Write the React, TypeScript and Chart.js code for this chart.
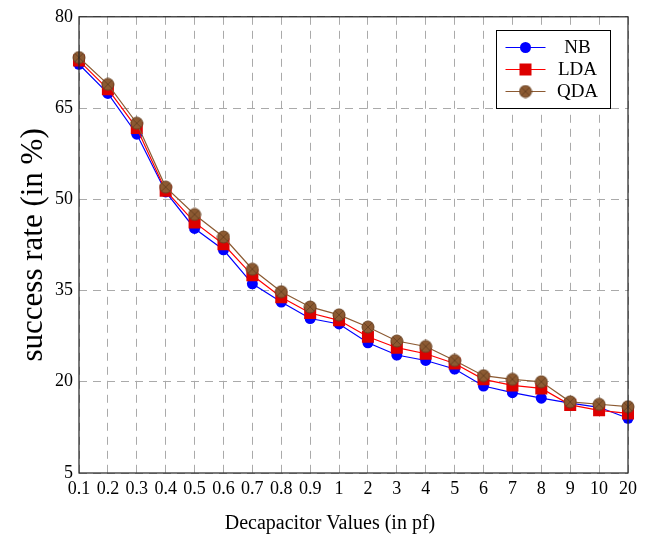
import React, { useEffect, useRef } from "react";
import { Chart, registerables } from "chart.js";

Chart.register(...registerables);

const categories = ["0.1", "0.2", "0.3", "0.4", "0.5", "0.6", "0.7", "0.8", "0.9", "1", "2", "3", "4", "5", "6", "7", "8", "9", "10", "20"];
const nbValues = [72.2, 67.4, 60.7, 51.2, 45.2, 41.7, 36.1, 33.1, 30.4, 29.5, 26.4, 24.4, 23.5, 22.1, 19.3, 18.2, 17.3, 16.5, 15.8, 14.0];
const ldaValues = [72.8, 68.1, 61.7, 51.4, 46.2, 42.6, 37.5, 33.9, 31.3, 30.1, 27.4, 25.6, 24.6, 23.0, 20.4, 19.4, 18.9, 16.2, 15.3, 14.8];
const qdaValues = [73.3, 68.9, 62.5, 52.0, 47.5, 43.8, 38.5, 34.8, 32.3, 31.0, 29.0, 26.7, 25.8, 23.5, 21.0, 20.4, 20.0, 16.7, 16.3, 15.9];
const yTicks = [5, 20, 35, 50, 65, 80];
const xTitle = "Decapacitor Values (in pf)";
const yTitle = "success rate (in %)";

const SERIF = "'Liberation Serif', 'DejaVu Serif', serif";
const BROWN = "#8c5a32";
const BROWN_EDGE = "#6a4222";

function makeOtimes(): HTMLCanvasElement {
  const c = document.createElement("canvas");
  const s = 14;
  c.width = s;
  c.height = s;
  const ctx = c.getContext("2d")!;
  const r = 6;
  ctx.beginPath();
  ctx.arc(s / 2, s / 2, r, 0, Math.PI * 2);
  ctx.fillStyle = BROWN;
  ctx.fill();
  ctx.lineWidth = 1;
  ctx.strokeStyle = BROWN_EDGE;
  ctx.stroke();
  const d = r * Math.SQRT1_2;
  ctx.beginPath();
  ctx.moveTo(s / 2 - d, s / 2 - d);
  ctx.lineTo(s / 2 + d, s / 2 + d);
  ctx.moveTo(s / 2 + d, s / 2 - d);
  ctx.lineTo(s / 2 - d, s / 2 + d);
  ctx.stroke();
  return c;
}

const framePlugin = {
  id: "frame",
  afterDraw(chart: any) {
    const { ctx, chartArea } = chart;
    ctx.save();
    ctx.strokeStyle = "#222";
    ctx.lineWidth = 1.2;
    ctx.strokeRect(chartArea.left, chartArea.top, chartArea.right - chartArea.left, chartArea.bottom - chartArea.top);
    // x title
    ctx.fillStyle = "#000";
    ctx.font = "20px " + SERIF;
    ctx.textAlign = "center";
    ctx.textBaseline = "middle";
    ctx.fillText(xTitle, 330, 524);
    // legend
    const bx = 496.5, by = 30.5, bw = 114, bh = 78;
    ctx.fillStyle = "#fff";
    ctx.fillRect(bx, by, bw, bh);
    ctx.strokeStyle = "#000";
    ctx.lineWidth = 1;
    ctx.strokeRect(bx, by, bw, bh);
    const dsets = chart.data.datasets;
    [0, 1, 2].forEach((i: number, k: number) => {
      const ds = dsets[i];
      const y = by + 17 + k * 22;
      ctx.beginPath();
      ctx.strokeStyle = ds.borderColor;
      ctx.lineWidth = 1.2;
      ctx.moveTo(bx + 9, y);
      ctx.lineTo(bx + 49, y);
      ctx.stroke();
      const cx = bx + 29;
      if (ds.pointStyle === "circle") {
        ctx.beginPath();
        ctx.arc(cx, y, 5.5, 0, Math.PI * 2);
        ctx.fillStyle = ds.pointBackgroundColor;
        ctx.fill();
      } else if (ds.pointStyle === "rect") {
        ctx.fillStyle = ds.pointBackgroundColor;
        ctx.fillRect(cx - 6, y - 6, 12, 12);
      } else {
        const img = ds.pointStyle as HTMLCanvasElement;
        ctx.drawImage(img, cx - img.width / 2, y - img.height / 2);
      }
      ctx.fillStyle = "#000";
      ctx.font = "19px " + SERIF;
      ctx.textAlign = "center";
      ctx.textBaseline = "middle";
      ctx.fillText(ds.label, bx + 81, y + 1);
    });
    ctx.restore();
  },
};

export default function App() {
  const ref = useRef<HTMLCanvasElement>(null);
  useEffect(() => {
    const otimes = makeOtimes();
    const chart = new Chart(ref.current!, {
      type: "line",
      data: {
        labels: categories,
        datasets: [
          {
            label: "NB",
            data: nbValues,
            borderColor: "#0000ff",
            backgroundColor: "#0000ff",
            pointBackgroundColor: "#0000ff",
            pointBorderColor: "#0000ff",
            pointStyle: "circle",
            pointRadius: 5.5,
            borderWidth: 1.2,
            pointBorderWidth: 0,
            order: 3,
          },
          {
            label: "LDA",
            data: ldaValues,
            borderColor: "#ff0000",
            backgroundColor: "#dd0000",
            pointBackgroundColor: "#dd0000",
            pointBorderColor: "#ff0000",
            pointStyle: "rect",
            pointRadius: 8.5,
            borderWidth: 1.2,
            pointBorderWidth: 0,
            order: 2,
          },
          {
            label: "QDA",
            data: qdaValues,
            borderColor: BROWN,
            backgroundColor: BROWN,
            pointBackgroundColor: BROWN,
            pointBorderColor: BROWN_EDGE,
            pointStyle: otimes as any,
            pointRadius: 6,
            borderWidth: 1.2,
            order: 1,
          },
        ],
      },
      options: {
        animation: false,
        responsive: true,
        maintainAspectRatio: false,
        layout: { padding: { top: 16, right: 20, left: 0, bottom: 0 } },
        plugins: { legend: { display: false }, tooltip: { enabled: false } },
        elements: { line: { tension: 0 } },
        scales: {
          x: {
            type: "category",
            offset: false,
            grid: { color: "#aaaaaa", lineWidth: 1, drawTicks: false },
            border: { display: true, width: 0, dash: [8, 6] },
            ticks: {
              color: "#000",
              font: { family: SERIF, size: 18 },
              padding: 5,
              maxRotation: 0,
              autoSkip: false,
            },
            title: { display: false, text: xTitle },
            afterFit(scale: any) {
              scale.height = 66;
            },
          },
          y: {
            min: 5,
            max: 80,
            afterBuildTicks(scale: any) {
              scale.ticks = yTicks.map((v) => ({ value: v }));
            },
            grid: { color: "#aaaaaa", lineWidth: 1, drawTicks: false },
            border: { display: true, width: 0, dash: [8, 6] },
            ticks: {
              color: "#000",
              font: { family: SERIF, size: 18 },
              padding: 6,
            },
            title: {
              display: true,
              text: yTitle,
              color: "#000",
              font: { family: SERIF, size: 31 },
              padding: { top: 15, bottom: 0 },
            },
            afterFit(scale: any) {
              scale.width = 79;
            },
          },
        },
      },
      plugins: [framePlugin],
    });
    return () => chart.destroy();
  }, []);
  return (
    <div style={{ position: "absolute", left: 0, top: 0, width: 648, height: 539, background: "#fff" }}>
      <canvas ref={ref} />
    </div>
  );
}
